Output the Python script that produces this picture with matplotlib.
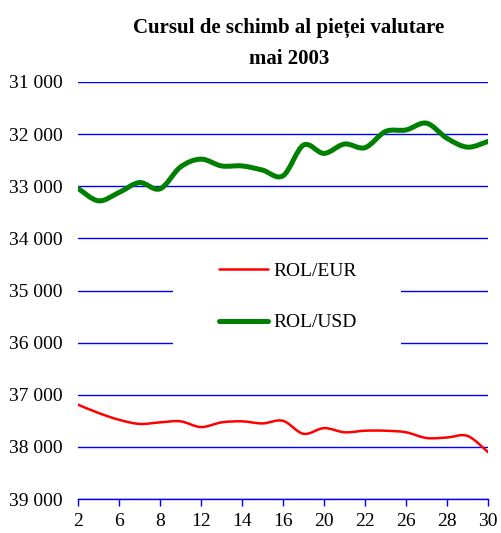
import matplotlib
matplotlib.use("Agg")
import matplotlib.pyplot as plt
from matplotlib.patches import Rectangle, PathPatch
from matplotlib.path import Path
from matplotlib.ticker import FuncFormatter

# trading days of May 2003
days = [2, 5, 6, 7, 8, 9, 12, 13, 14, 15, 16, 19, 20, 21, 22, 23, 26, 27, 28, 29, 30]

rol_eur = [37190, 37350, 37480, 37560, 37530, 37510, 37620, 37530, 37510, 37550, 37500,
           37750, 37640, 37720, 37690, 37690, 37720, 37830, 37820, 37790, 38100]
rol_usd = [33040, 33280, 33120, 32930, 33050, 32630, 32480, 32610, 32610, 32690, 32800,
           32210, 32370, 32190, 32260, 31950, 31920, 31790, 32080, 32250, 32140]

y_ticks = [31000, 32000, 33000, 34000, 35000, 36000, 37000, 38000, 39000]

title = "Cursul de schimb al pieței valutare\nmai 2003"


def smooth_path(xs, ys):
    """Bezier path through the points, like a spreadsheet 'smoothed line'."""
    n = len(xs)
    verts = [(xs[0], ys[0])]
    codes = [Path.MOVETO]
    for i in range(n - 1):
        a, b = max(i - 1, 0), min(i + 2, n - 1)
        c1 = (xs[i] + (xs[i + 1] - xs[a]) / 6, ys[i] + (ys[i + 1] - ys[a]) / 6)
        c2 = (xs[i + 1] - (xs[b] - xs[i]) / 6, ys[i + 1] - (ys[b] - ys[i]) / 6)
        verts += [c1, c2, (xs[i + 1], ys[i + 1])]
        codes += [Path.CURVE4] * 3
    return Path(verts, codes)


plt.rcParams["font.family"] = ["Liberation Serif", "DejaVu Serif"]

fig = plt.figure(figsize=(5.01, 5.33), dpi=100)
ax = fig.add_axes([78 / 501, 1 - 499 / 533, 410 / 501, 417 / 533])

x = list(range(len(days)))
series = [(rol_eur, "#ff0000", 1.8, "ROL/EUR"), (rol_usd, "#008000", 3.6, "ROL/USD")]
for vals, col, lw, lab in series:
    ax.add_patch(PathPatch(smooth_path(x, vals), fill=False, edgecolor=col, lw=lw,
                           capstyle="round", joinstyle="round", zorder=3))
    ax.plot([], [], color=col, lw=lw, label=lab, solid_capstyle="round")

ax.set_xlim(0, len(days) - 1)
ax.set_ylim(y_ticks[-1], y_ticks[0])
ax.set_yticks(y_ticks)
ax.yaxis.set_major_formatter(FuncFormatter(lambda v, p: f"{v:,.0f}".replace(",", " ")))
ax.set_xticks(x[::2])
ax.set_xticklabels([str(d) for d in days[::2]])

ax.grid(axis="y", color="#0000ff", lw=1, zorder=1)
ax.set_axisbelow(True)
for side in ["top", "left", "right"]:
    ax.spines[side].set_visible(False)
ax.spines["bottom"].set_color("#0000ff")
ax.spines["bottom"].set_linewidth(1)
ax.spines["bottom"].set_zorder(2)

ax.tick_params(axis="y", length=0, pad=11, labelsize=14)
ax.tick_params(axis="x", length=5, width=1, color="#0000ff", direction="out",
               pad=5, labelsize=14)

# white block behind the legend hides the gridlines there
ax.add_patch(Rectangle((0.232, 0.31), 0.556, 0.275, transform=ax.transAxes,
                       facecolor="white", edgecolor="none", zorder=2))

ax.legend(loc="center", bbox_to_anchor=(0.512, 0.485), frameon=False, fontsize=14,
          handlelength=2.5, handletextpad=0.25, labelspacing=1.75)

fig.text(0.577, 1 - 18 / 533, title, ha="center", va="top", fontsize=15,
         fontweight="bold", linespacing=1.7)

fig.savefig("out.png", dpi=100, facecolor="white")
